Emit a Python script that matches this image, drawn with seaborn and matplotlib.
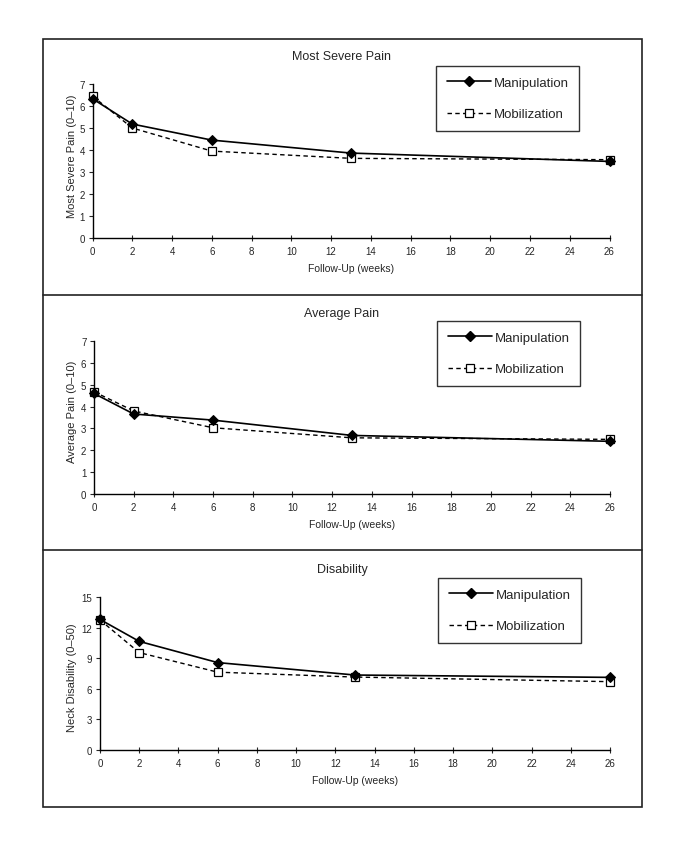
import pandas as pd
import numpy as np
import matplotlib
matplotlib.use("Agg")
import matplotlib.pyplot as plt
from matplotlib.patches import Rectangle
from matplotlib.lines import Line2D
import seaborn as sns

# --- data ---
weeks = [0, 2, 6, 13, 26]
severe_manip = [6.33, 5.18, 4.45, 3.86, 3.48]
severe_mobil = [6.45, 5.0, 3.95, 3.62, 3.56]
avg_manip = [4.6, 3.66, 3.38, 2.68, 2.41]
avg_mobil = [4.68, 3.8, 3.03, 2.57, 2.5]
dis_manip = [12.8, 10.65, 8.57, 7.35, 7.12]
dis_mobil = [12.75, 9.55, 7.63, 7.15, 6.7]

titles = ["Most Severe Pain", "Average Pain", "Disability"]
ylabels = ["Most Severe Pain (0\u201310)", "Average Pain (0\u201310)", "Neck Disability (0\u201350)"]
xlabel = "Follow-Up (weeks)"
group_names = ["Manipulation", "Mobilization"]
yticks_list = [list(range(0, 8)), list(range(0, 8)), [0, 3, 6, 9, 12, 15]]
xticks = list(range(0, 27, 2))

# --- style ---
sns.set_style("ticks")
plt.rcParams['font.family'] = ['Liberation Sans', 'DejaVu Sans']

W, H = 687, 853
fig = plt.figure(figsize=(W / 100, H / 100), dpi=100)


def fx(x):
    return x / W


def fy(y):
    return 1 - y / H


# pixel layout for each panel: axes box (l, t, r, b), title y, xlabel y, ylabel centre y, legend (right, top)
layout = [
    dict(ax=(92.5, 85, 609.5, 239), title=57, xlab=269, ylab=156, leg=(579, 67)),
    dict(ax=(94, 342, 610, 495), title=314, xlab=525, ylab=412, leg=(580, 322)),
    dict(ax=(100, 598, 610, 751), title=570, xlab=781, ylab=678, leg=(581, 579)),
]

series = [
    (severe_manip, severe_mobil),
    (avg_manip, avg_mobil),
    (dis_manip, dis_mobil),
]

for i, (lay, (manip, mobil)) in enumerate(zip(layout, series)):
    l, t, r, b = lay['ax']
    ax = fig.add_axes([fx(l), fy(b), (r - l) / W, (b - t) / H])

    df = pd.DataFrame({'week': weeks * 2,
                       'score': manip + mobil,
                       'group': [group_names[0]] * len(weeks) + [group_names[1]] * len(weeks)})

    sns.lineplot(data=df[df['group'] == group_names[1]], x='week', y='score', ax=ax,
                 color='black', linewidth=1.0, linestyle=(0, (3.2, 2.4)),
                 marker='s', markersize=6, markerfacecolor='white',
                 markeredgecolor='black', markeredgewidth=0.9, clip_on=False, zorder=3)
    sns.lineplot(data=df[df['group'] == group_names[0]], x='week', y='score', ax=ax,
                 color='black', linewidth=1.2, linestyle='-',
                 marker='D', markersize=5.5, markerfacecolor='black',
                 markeredgecolor='black', clip_on=False, zorder=4)

    yt = yticks_list[i]
    ax.set_xlim(0, 26)
    ax.set_ylim(yt[0], yt[-1])
    ax.set_xticks(xticks)
    ax.set_yticks(yt)
    ax.tick_params(axis='x', direction='inout', length=4, width=0.8, pad=4, labelsize=7)
    ax.tick_params(axis='y', direction='out', length=3, width=0.8, pad=2.5, labelsize=7)
    sns.despine(ax=ax)
    for s in ['left', 'bottom']:
        ax.spines[s].set_linewidth(1.0)
        ax.spines[s].set_color('black')

    ax.set_xlabel(xlabel, fontsize=7.5, va='center')
    ax.xaxis.set_label_coords(fx((l + r) / 2), fy(lay['xlab']), transform=fig.transFigure)
    ax.set_ylabel(ylabels[i], fontsize=8, va='center')
    ax.yaxis.set_label_coords(fx(72), fy(lay['ylab']), transform=fig.transFigure)

    fig.text(fx(342), fy(lay['title']), titles[i], ha='center', va='center', fontsize=9)

    handles = [
        Line2D([], [], color='black', lw=1.2, marker='D', markersize=5.5,
               markerfacecolor='black'),
        Line2D([], [], color='black', lw=1.0, linestyle=(0, (3.2, 2.4)), marker='s',
               markersize=6, markerfacecolor='white', markeredgewidth=0.9),
    ]
    lx, ly = lay['leg']
    leg = ax.legend(handles, group_names, loc='upper right',
                    bbox_to_anchor=(fx(lx), fy(ly)), bbox_transform=fig.transFigure,
                    frameon=True, fancybox=False, edgecolor='black', fontsize=9.5,
                    handlelength=3.4, handletextpad=0.15, labelspacing=1.45,
                    borderpad=0.8, borderaxespad=0)
    leg.get_frame().set_linewidth(1.0)

# outer frame and panel dividers
fig.add_artist(Rectangle((fx(43), fy(808)), (642 - 43) / W, (808 - 40) / H,
                         transform=fig.transFigure, fill=False, edgecolor='#222222', lw=1.2))
for yd in [296, 551]:
    fig.add_artist(Line2D([fx(43), fx(642)], [fy(yd), fy(yd)], transform=fig.transFigure,
                          color='#222222', lw=1.2))

plt.savefig('out.png', dpi=100)
